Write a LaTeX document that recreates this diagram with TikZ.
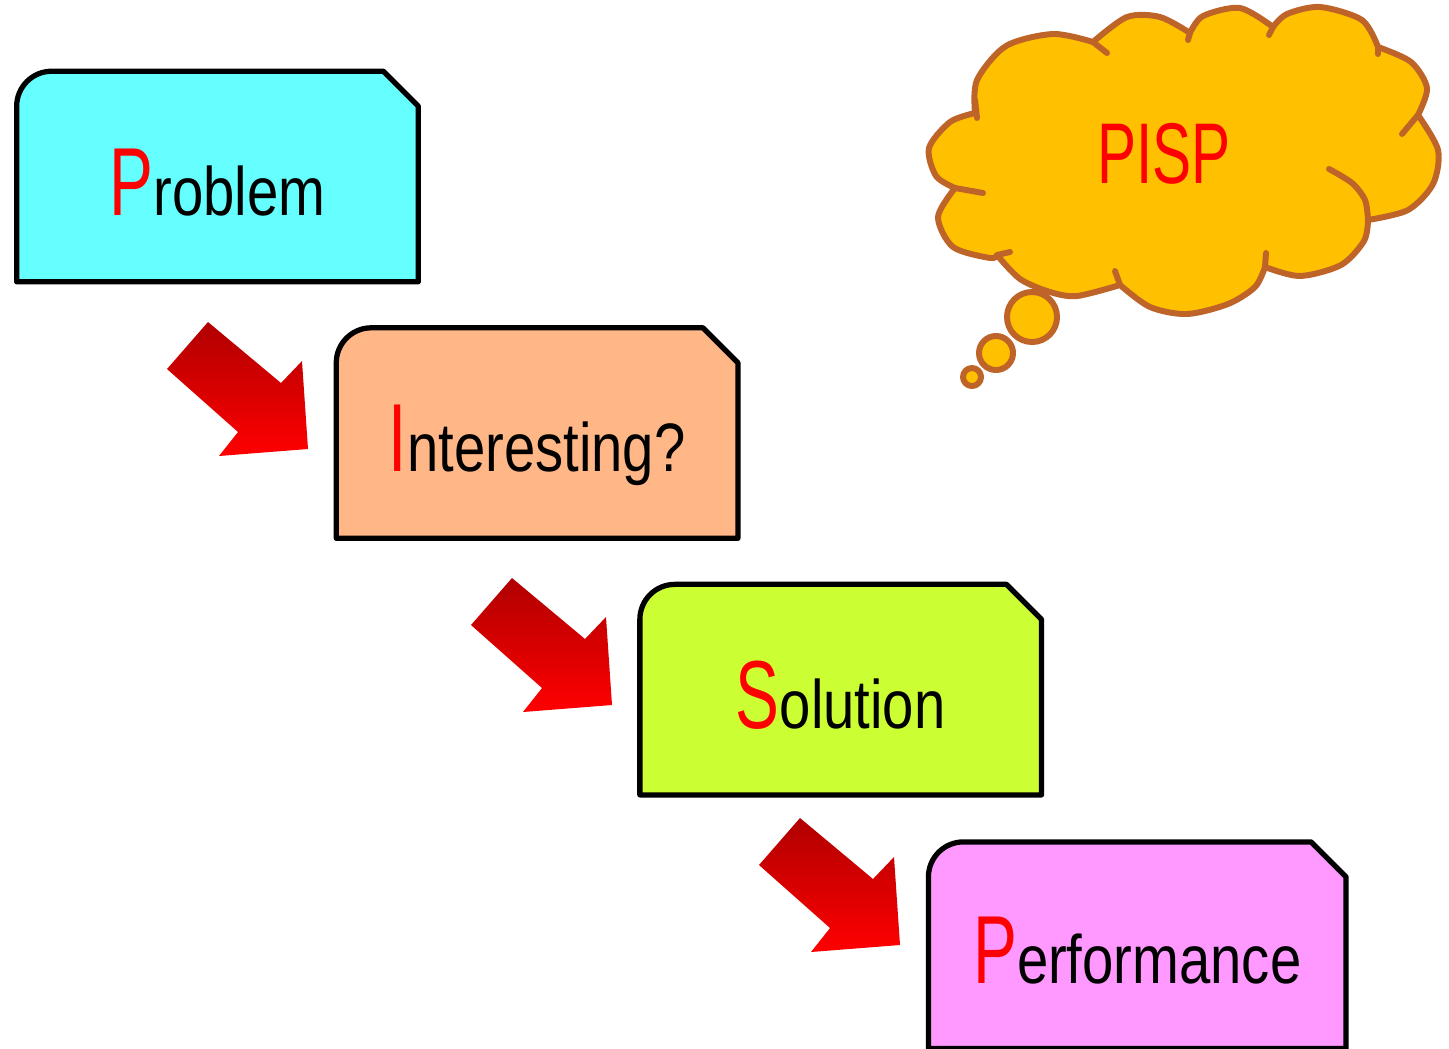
\documentclass[tikz,border=0pt]{standalone}
\usepackage{xcolor}
\usepackage{fontspec}
\usepackage{tikz}
\usetikzlibrary{positioning,backgrounds}
\setmainfont{Liberation Sans}[FakeStretch=0.82]
\newfontfamily\capfont{Liberation Sans}[FakeStretch=0.68]
\definecolor{probCyan}{HTML}{66FFFF}
\definecolor{intrPeach}{HTML}{FFB787}
\definecolor{soluLime}{HTML}{CCFF33}
\definecolor{perfPink}{HTML}{FF99FF}
\definecolor{cloudGold}{HTML}{FFC000}
\definecolor{cloudEdge}{HTML}{BE6428}
\definecolor{arrowDark}{HTML}{B00000}
\definecolor{arrowRed}{HTML}{FF0000}
\newcommand{\firstletter}[1]{\textcolor{arrowRed}{\capfont\fontsize{27.5}{27.5}\selectfont #1}}
\tikzset{
  stagebox/.style={minimum width=4.0cm,minimum height=2.09cm,inner sep=0pt,
    text height=0.77cm,text depth=0pt,font=\fontsize{19.5}{19.5}\selectfont},
  stageframe/.style={draw=black,line width=1.5pt,line join=round},
  arrowshade/.style={top color=arrowDark,bottom color=arrowRed},
  cloudline/.style={draw=cloudEdge,line width=1.7pt,line cap=round,line join=round},
  cloudshape/.style={cloudline,fill=cloudGold},
  bigarrow/.pic={
    \shade[arrowshade] (0,0) -- (73,61) -- (94,39) -- (100,127) -- (11,134)
      -- (30,110) -- (-41,47) -- cycle;
  }
}

\begin{document}
\begin{tikzpicture}[x=0.01cm,y=-0.01cm]
  \useasboundingbox (0,0) rectangle (1449,1048);
  % the four stages
  \node[stagebox] (prob) at (217.5,176.5) {\firstletter{P}roblem};
  \node[stagebox, below right=0.46cm and -0.82cm of prob] (intr) {\firstletter{I}nteresting?};
  \node[stagebox, below right=0.46cm and -0.98cm of intr] (solu) {\firstletter{S}olution};
  \node[stagebox, below right=0.47cm and -1.13cm of solu, minimum width=4.16cm,
    minimum height=2.05cm] (perf) {\firstletter{P}erformance};
  \begin{scope}[on background layer]
    \foreach \n/\c in {prob/probCyan,intr/intrPeach,solu/soluLime,perf/perfPink}
      \draw[stageframe,fill=\c] (\n.south west) -- ([yshift=-0.35cm]\n.north west)
        arc[start angle=180,end angle=90,radius=0.35cm]
        -- ([xshift=-0.35cm]\n.north east) -- ([yshift=-0.35cm]\n.north east)
        -- (\n.south east) -- cycle;
  \end{scope}
  % arrows between stages
  \pic at (208,322) {bigarrow};
  \pic at (512,578) {bigarrow};
  \pic at (800,818) {bigarrow};
  % thought cloud
  \path[cloudshape]
    plot[smooth] coordinates {(975,113) (950,122) (929,148) (936,176) (955,188)}
    -- plot[smooth] coordinates {(955,188) (938,217) (953,247) (990,258) (997,255)}
    -- plot[smooth] coordinates {(997,255) (1020,279) (1050,292) (1077,296) (1120,285)}
    -- plot[smooth] coordinates {(1120,285) (1150,307) (1187,314) (1228,304) (1255,287) (1265,267)}
    -- plot[smooth] coordinates {(1265,267) (1300,276) (1341,265) (1364,241) (1368,220)}
    -- plot[smooth] coordinates {(1368,220) (1408,210) (1433,184) (1438,150) (1418,115)}
    -- plot[smooth] coordinates {(1418,115) (1427,88) (1411,62) (1378,47)}
    -- plot[smooth] coordinates {(1378,47) (1362,20) (1320,7) (1287,14) (1273,27)}
    -- plot[smooth] coordinates {(1273,27) (1240,8) (1203,16) (1190,33)}
    -- plot[smooth] coordinates {(1190,33) (1160,17) (1127,17) (1093,42)}
    -- plot[smooth] coordinates {(1093,42) (1053,34) (1006,46) (977,80) (975,113)}
    -- cycle;
  \draw[cloudline] (975,100) -- (977,118);
  \draw[cloudline] (955,188) -- (983,193);
  \draw[cloudline] (997,255) -- (1010,252);
  \draw[cloudline] (1115,271) -- (1120,285);
  \draw[cloudline] (1266,253) -- (1265,267);
  \draw[cloudline] plot[smooth] coordinates {(1329,169) (1352,183) (1365,200) (1368,220)};
  \draw[cloudline] (1402,134) -- (1418,115);
  \draw[cloudline] (1378,54) -- (1378,47);
  \draw[cloudline] (1269,35) -- (1273,27);
  \draw[cloudline] (1188,40) -- (1190,33);
  \draw[cloudline] (1107,53) -- (1093,42);
  \path[cloudshape] (1032,317) circle[radius=0.25cm];
  \path[cloudshape] (996,353) circle[radius=0.17cm];
  \path[cloudshape] (972,377) circle[radius=0.09cm];
  \node[text depth=0pt,inner sep=0pt,text=arrowRed,font=\capfont\fontsize{24.5}{24.5}\selectfont]
    (pisp) at (1164,153) {PISP};
\end{tikzpicture}
\end{document}
